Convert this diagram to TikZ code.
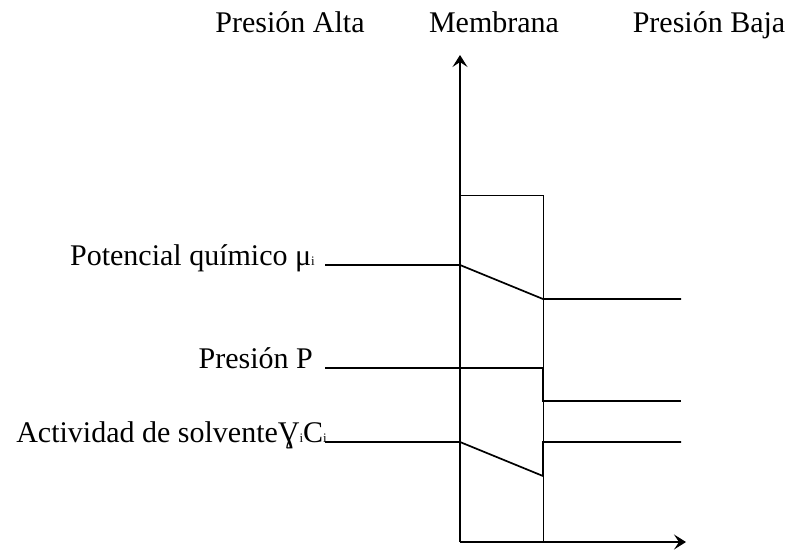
\documentclass[tikz,border=0pt]{standalone}
\usepackage{fontspec}
\setmainfont{Liberation Serif}
\usetikzlibrary{arrows.meta}

\newcommand{\subi}{\raisebox{-0.5pt}{\fontsize{13}{13}\selectfont i}}

\begin{document}
\begin{tikzpicture}[
    x=1pt, y=-1pt,
    axis/.style={line width=1.1pt, -{Stealth[length=12pt, width=15pt, inset=5pt]}},
    important line/.style={line width=1.7pt},
    box line/.style={line width=0.8pt},
    every node/.style={color=black, font=\fontsize{30}{34}\selectfont, inner sep=0pt}
    ]

\useasboundingbox (0,0) rectangle (787,550);

% titles
\node (alta) [anchor=base] at (290,32) {Presión Alta};
\node (memb) [anchor=base] at (494,32) {Membrana};
\node (baja) [anchor=base] at (709,32) {Presión Baja};

% axes
\coordinate (origin) at (460,542);
\coordinate (ytop) at (460,55);
\coordinate (xend) at (686,542);
\draw[axis] (origin) -- (ytop);
\draw[axis] (origin) -- (xend);

% membrane
\coordinate (mtop) at (460,195);
\draw[box line] (mtop) rectangle (543,542);

% potencial quimico
\node (mu) [anchor=base east] at (315,265) {Potencial químico μ\subi};
\coordinate (mu1) at (325,265);
\coordinate (mu2) at (460,265);
\coordinate (mu3) at (543,299);
\coordinate (mu4) at (681,299);
\draw[important line] (mu1) -- (mu2) -- (mu3) -- (mu4);

% presion
\node (pres) [anchor=base east] at (313,368) {Presión P};
\coordinate (p1) at (325,368);
\coordinate (p2) at (543,368);
\coordinate (p3) at (543,401);
\coordinate (p4) at (681,401);
\draw[important line] (p1) -- (p2) -- (p3) -- (p4);

% actividad
\node (act) [anchor=base east] at (327,442) {Actividad de solventeƔ\subi C\subi};
\coordinate (a1) at (325,442);
\coordinate (a2) at (460,442);
\coordinate (a3) at (543,476);
\coordinate (a4) at (543,442);
\coordinate (a5) at (681,442);
\draw[important line] (a1) -- (a2) -- (a3) -- (a4) -- (a5);

\end{tikzpicture}
\end{document}
